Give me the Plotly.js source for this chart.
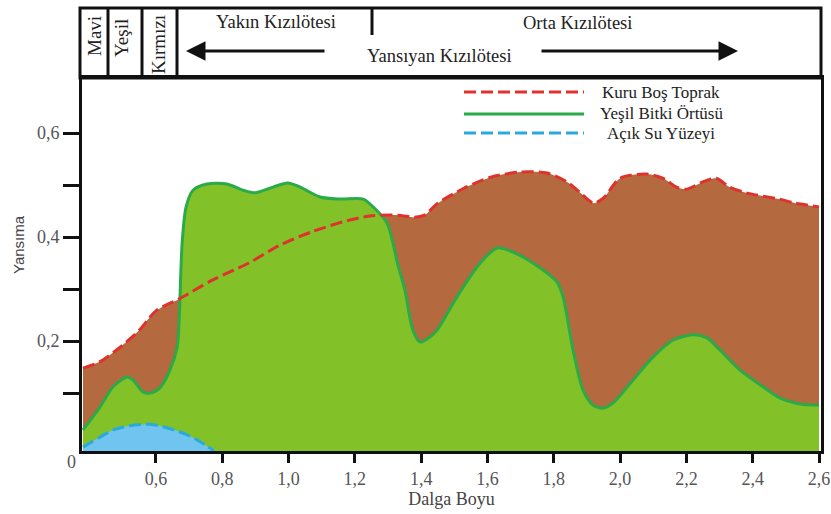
<!DOCTYPE html>
<html>
<head>
<meta charset="utf-8">
<script src="https://cdn.plot.ly/plotly-3.0.1.min.js"></script>
<style>html,body{margin:0;padding:0;background:#fff;}#chart{width:831px;height:514px;}</style>
</head>
<body>
<div id="chart"></div>
<script>
// ---- data ----
const soilX = [0.38,0.43,0.49,0.55,0.60,0.67,0.77,0.88,0.97,1.07,1.18,1.25,1.33,1.38,1.41,1.45,1.53,1.61,1.70,1.78,1.84,1.88,1.92,1.95,2.00,2.08,2.13,2.17,2.20,2.25,2.29,2.33,2.38,2.48,2.53,2.60];
const soilY = [0.148,0.160,0.187,0.221,0.258,0.281,0.317,0.350,0.383,0.410,0.432,0.441,0.442,0.438,0.442,0.465,0.494,0.515,0.525,0.523,0.506,0.485,0.465,0.475,0.513,0.521,0.513,0.496,0.492,0.506,0.513,0.496,0.485,0.473,0.465,0.458];

const vegX = [0.38,0.431,0.471,0.513,0.531,0.561,0.582,0.612,0.642,0.664,0.670,0.679,0.691,0.712,0.754,0.814,0.863,0.899,0.953,0.998,1.035,1.095,1.155,1.225,1.255,1.297,1.330,1.351,1.375,1.397,1.427,1.448,1.508,1.578,1.629,1.677,1.737,1.810,1.828,1.858,1.888,1.918,1.949,1.979,2.039,2.099,2.160,2.220,2.262,2.301,2.362,2.431,2.483,2.543,2.60];
const vegY = [0.029,0.073,0.112,0.131,0.125,0.102,0.100,0.110,0.144,0.188,0.240,0.388,0.458,0.490,0.502,0.502,0.490,0.485,0.496,0.504,0.496,0.477,0.473,0.473,0.458,0.427,0.346,0.298,0.221,0.198,0.208,0.221,0.285,0.350,0.379,0.371,0.350,0.313,0.285,0.183,0.106,0.077,0.071,0.081,0.125,0.169,0.202,0.212,0.206,0.183,0.144,0.112,0.090,0.079,0.077];

const waterX = [0.38,0.401,0.431,0.471,0.522,0.582,0.621,0.673,0.724,0.775];
const waterY = [-0.004,0.004,0.015,0.029,0.037,0.040,0.035,0.025,0.010,-0.0115];

const xTickVals = [0.6,0.8,1.0,1.2,1.4,1.6,1.8,2.0,2.2,2.4,2.6];
const xTickText = ['0,6','0,8','1,0','1,2','1,4','1,6','1,8','2,0','2,2','2,4','2,6'];
const yTickVals = [0.1,0.2,0.3,0.4,0.5,0.6];
const yTickText = ['','0,2','','0,4','','0,6'];

const seriesNames = ['Kuru Boş Toprak','Yeşil Bitki Örtüsü','Açık Su Yüzeyi'];
const bandNames = ['Mavi','Yeşil','Kırmızı'];
const regionNames = ['Yakın Kızılötesi','Orta Kızılötesi','Yansıyan Kızılötesi'];
const xTitle = 'Dalga Boyu';
const yTitle = 'Yansıma';
const zeroLabel = '0';

// ---- styling ----
const BASE = -0.0115;               // bottom of the y axis
const X_RANGE = [0.377, 2.606];
const Y_RANGE = [BASE, 0.7058];
const ML = 82, MR = 10, MT = 78, MB = 63, W = 831, H = 514;
const PW = W - ML - MR, PH = H - MT - MB;
const PX = px => (px - ML) / PW;
const PY = py => (MT + PH - py) / PH;

const C_SOIL_FILL = '#b4693f', C_SOIL_LINE = '#e0322d';
const C_VEG_FILL = '#82c128', C_VEG_LINE = '#2aaa48';
const C_WAT_FILL = '#70c4f0', C_WAT_LINE = '#2aaadc';
const SERIF = "'Liberation Serif', 'Times New Roman', serif";
const SANS = "'Liberation Sans', Arial, sans-serif";
const DASH = '12px,5px';

function baseTrace(xs) {
  return {x: [xs[0], xs[xs.length - 1]], y: [BASE, BASE], mode: 'lines',
          line: {width: 0}, hoverinfo: 'skip', showlegend: false};
}

const traces = [
  baseTrace(soilX),
  {x: soilX, y: soilY, mode: 'lines', fill: 'tonexty', fillcolor: C_SOIL_FILL,
   line: {width: 0, shape: 'spline', smoothing: 0.8}, name: seriesNames[0], showlegend: false},
  baseTrace(vegX),
  {x: vegX, y: vegY, mode: 'lines', fill: 'tonexty', fillcolor: C_VEG_FILL,
   line: {width: 3, color: C_VEG_LINE, shape: 'spline', smoothing: 0.8}, name: seriesNames[1], showlegend: false},
  baseTrace(waterX),
  {x: waterX, y: waterY, mode: 'lines', fill: 'tonexty', fillcolor: C_WAT_FILL,
   line: {width: 3, color: C_WAT_LINE, dash: DASH, shape: 'spline', smoothing: 0.8}, name: seriesNames[2], showlegend: false},
  {x: soilX, y: soilY, mode: 'lines',
   line: {width: 3, color: C_SOIL_LINE, dash: DASH, shape: 'spline', smoothing: 0.8}, name: seriesNames[0], showlegend: false}
];

const shapes = [];
const annotations = [];
const lineK = {color: '#111', width: 3};

// header box
shapes.push({type: 'rect', xref: 'paper', yref: 'paper', x0: PX(80), x1: PX(821), y0: PY(78), y1: PY(8), line: lineK});
[108, 142, 177].forEach(px => shapes.push({type: 'line', xref: 'paper', yref: 'paper', x0: PX(px), x1: PX(px), y0: PY(78), y1: PY(8), line: lineK}));
shapes.push({type: 'line', xref: 'paper', yref: 'paper', x0: PX(372), x1: PX(372), y0: PY(35), y1: PY(8), line: lineK});

// band labels (rotated)
[[95, 36, 19], [122, 38, 19], [159, 45, 19]].forEach((p, i) => annotations.push({
  xref: 'paper', yref: 'paper', x: PX(p[0]), y: PY(p[1]), text: bandNames[i], showarrow: false,
  textangle: -90, xanchor: 'center', yanchor: 'middle', font: {family: SERIF, size: p[2], color: '#222'}
}));
// region labels
[[276, 22], [577, 23], [439, 56]].forEach((p, i) => annotations.push({
  xref: 'paper', yref: 'paper', x: PX(p[0]), y: PY(p[1]), text: regionNames[i], showarrow: false,
  xanchor: 'center', yanchor: 'middle', font: {family: SERIF, size: 18.5, color: '#222'}
}));
// arrows
annotations.push({xref: 'paper', yref: 'paper', x: PX(186), y: PY(51), ax: 140, ay: 0, text: '',
  showarrow: true, arrowhead: 2, arrowsize: 1.3, arrowwidth: 3, arrowcolor: '#111', standoff: 0});
annotations.push({xref: 'paper', yref: 'paper', x: PX(738), y: PY(51), ax: -198, ay: 0, text: '',
  showarrow: true, arrowhead: 2, arrowsize: 1.3, arrowwidth: 3, arrowcolor: '#111', standoff: 0});

// legend (manual)
const legendRows = [
  {py: 92, color: C_SOIL_LINE, dash: DASH, tx: 600},
  {py: 114, color: C_VEG_LINE, dash: 'solid', tx: 598},
  {py: 133, color: C_WAT_LINE, dash: DASH, tx: 605}
];
legendRows.forEach((r, i) => {
  shapes.push({type: 'line', xref: 'paper', yref: 'paper', x0: PX(464), x1: PX(584), y0: PY(r.py), y1: PY(r.py),
    line: {color: r.color, width: 3, dash: r.dash}});
  annotations.push({xref: 'paper', yref: 'paper', x: PX(r.tx), y: PY(r.py), text: seriesNames[i], showarrow: false,
    xanchor: 'left', yanchor: 'middle', font: {family: SERIF, size: 17, color: '#222'}});
});

// zero label at the corner
annotations.push({xref: 'paper', yref: 'paper', x: PX(71), y: PY(462), text: zeroLabel, showarrow: false,
  xanchor: 'center', yanchor: 'middle', font: {family: SERIF, size: 18, color: '#555'}});

// y-axis title (placed like the reference, above centre)
annotations.push({xref: 'paper', yref: 'paper', x: PX(18), y: PY(245), text: yTitle, showarrow: false,
  textangle: -90, xanchor: 'center', yanchor: 'middle', font: {family: SANS, size: 15, color: '#444'}});

const layout = {
  width: W, height: H,
  margin: {l: ML, r: MR, t: MT, b: MB, pad: 0},
  paper_bgcolor: '#fff', plot_bgcolor: '#fff',
  showlegend: false,
  xaxis: {range: X_RANGE, tickvals: xTickVals, ticktext: xTickText, ticks: 'outside', ticklen: 9, tickwidth: 3,
          tickcolor: '#111', showline: true, linecolor: '#111', linewidth: 3, mirror: true, showgrid: false, zeroline: false,
          tickfont: {family: SERIF, size: 18, color: '#555'},
          title: {text: xTitle, font: {family: SERIF, size: 18, color: '#444'}, standoff: 4}},
  yaxis: {range: Y_RANGE, tickvals: yTickVals, ticktext: yTickText, ticks: 'outside', ticklen: 16, tickwidth: 3,
          tickcolor: '#111', showline: true, linecolor: '#111', linewidth: 3, mirror: true, showgrid: false, zeroline: false,
          tickfont: {family: SERIF, size: 18, color: '#555'}},
  shapes: shapes,
  annotations: annotations
};

Plotly.newPlot('chart', traces, layout, {staticPlot: true, displayModeBar: false});
</script>
</body>
</html>
